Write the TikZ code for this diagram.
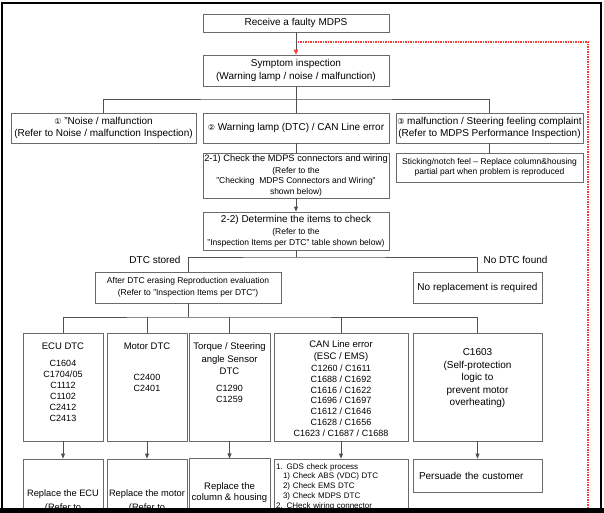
\documentclass[tikz,border=0pt]{standalone}
\usepackage{fontspec}
\setmainfont{Liberation Sans}
\newfontfamily\symfont{DejaVu Sans}
\usetikzlibrary{arrows.meta}
\definecolor{boxline}{HTML}{6A6A6A}
\definecolor{wireline}{HTML}{505050}
\definecolor{loopred}{HTML}{FF3838}
\newcommand{\circnum}[1]{{\symfont\fontsize{8}{10}\selectfont #1}}

\begin{document}
\begin{tikzpicture}[x=1pt, y=-1pt, font=\fontsize{10}{12.5}\selectfont,
        box/.style={draw=boxline, line width=0.8pt, inner sep=1pt, align=center},
        wire/.style={draw=wireline, line width=0.8pt},
        drop/.style={wire, -{Triangle[length=5pt, width=4pt]}},
        note/.style={font=\fontsize{8.5}{10.5}\selectfont},
        codes/.style={inner sep=0pt, anchor=north, align=center, font=\fontsize{9}{11}\selectfont},
        redloop/.style={draw=loopred, line width=1.3pt, dash pattern=on 1.5pt off 1pt}]
        \useasboundingbox (0, 0) rectangle (604, 513);

        \node[box, minimum width=186, minimum height=18] (recv) at (296, 23) {Receive a faulty MDPS};
        \node[box, minimum width=186, minimum height=31] (symp) at (296, 70.5) {Symptom inspection\\(Warning lamp / noise / malfunction)};
        \node[box, minimum width=185, minimum height=30, font=\fontsize{10}{12}\selectfont] (noise) at (103.5, 128) {\circnum{①} "Noise / malfunction\\(Refer to Noise / malfunction Inspection)};
        \node[box, minimum width=186, minimum height=30] (warn) at (296, 128) {\circnum{②} Warning lamp (DTC) / CAN Line error};
        \node[box, minimum width=187, minimum height=30, font=\fontsize{10}{12}\selectfont] (steer) at (489.5, 128) {\circnum{③} malfunction / Steering feeling complaint\\(Refer to MDPS Performance Inspection)};
        \node[box, note, minimum width=186, minimum height=45] (check) at (296, 175.5) {{\fontsize{9.3}{12}\selectfont 2-1) Check the MDPS connectors and wiring}\\[1.5pt](Refer to the\\"Checking\ \ MDPS Connectors and Wiring"\\shown below)};
        \node[box, note, minimum width=187, minimum height=29] (stick) at (489.5, 167.5) {Sticking/notch feel -- Replace column\&housing\\partial part when problem is reproduced};
        \node[box, note, minimum width=186, minimum height=38, font=\fontsize{8.5}{11}\selectfont] (items) at (296, 231) {{\fontsize{10}{12}\selectfont 2-2) Determine the items to check}\\[1pt](Refer to the\\"Inspection Items per DTC" table shown below)};
        \node (stored) at (155, 259.5) {DTC stored};
        \node (nofound) at (515.5, 259.5) {No DTC found};
        \node[box, minimum width=186, minimum height=31, font=\fontsize{8.5}{12}\selectfont] (erase) at (188, 287.5) {After DTC erasing Reproduction evaluation\\(Refer to "Inspection Items per DTC")};
        \node[box, minimum width=129, minimum height=31] (norep) at (477.5, 287.5) {No replacement is required};

        \node[box, minimum width=80, minimum height=108] (ecu) at (63, 387) {};
        \node[box, minimum width=80, minimum height=108] (motor) at (147, 387) {};
        \node[box, minimum width=81, minimum height=108] (sensor) at (229.5, 387) {};
        \node[box, minimum width=134, minimum height=108] (can) at (341, 387) {};
        \node[box, minimum width=129, minimum height=108] (selfprot) at (477.5, 387) {};
        \node[codes] (ecutxt) at (63, 342.6) {{\fontsize{9.5}{11}\selectfont ECU DTC}\\[5.8pt]C1604\\C1704/05\\C1112\\C1102\\C2412\\C2413};
        \node[codes] (motortxt) at (147, 342.6) {{\fontsize{9.5}{11}\selectfont Motor DTC}\\[19.8pt]C2400\\C2401};
        \node[codes] (sensortxt) at (229.5, 342.6) {{\fontsize{9.5}{11}\selectfont Torque / Steering}\\[1.5pt]{\fontsize{9.5}{11}\selectfont angle Sensor}\\[1.5pt]{\fontsize{9.5}{11}\selectfont DTC}\\[5.8pt]C1290\\C1259};
        \node[codes, font=\fontsize{9}{10.8}\selectfont] (cantxt) at (341, 340.6) {{\fontsize{9.5}{11}\selectfont CAN Line error}\\[1.2pt]{\fontsize{9.5}{11}\selectfont (ESC / EMS)}\\[1pt]C1260 / C1611\\C1688 / C1692\\C1616 / C1622\\C1696 / C1697\\C1612 / C1646\\C1628 / C1656\\C1623 / C1687 / C1688};
        \node[codes, font=\fontsize{10}{12.5}\selectfont] (selfprottxt) at (477.5, 348.4) {C1603\\(Self-protection\\logic to\\prevent motor\\overheating)};

        \node[box, minimum width=80, minimum height=84, font=\fontsize{9.3}{14}\selectfont] (ecurep) at (63, 501) {Replace the ECU\\(Refer to};
        \node[box, minimum width=80, minimum height=84, font=\fontsize{9.3}{14}\selectfont] (motorrep) at (147, 501) {Replace the motor\\(Refer to};
        \node[box, minimum width=81, minimum height=67, font=\fontsize{9.5}{11.5}\selectfont] (colrep) at (229.5, 492.3) {Replace the\\column \& housing};
        \node[box, minimum width=134, minimum height=55, text width=130pt, align=left, inner xsep=2pt, font=\fontsize{8}{9.75}\selectfont] (gds) at (341, 486.5) {1. GDS check process\\\hspace*{7pt}1) Check ABS (VDC) DTC\\\hspace*{7pt}2) Check EMS DTC\\\hspace*{7pt}3) Check MDPS DTC\\2. CHeck wiring connector};
        \node[box, minimum width=129, minimum height=33, text width=117pt, align=left, inner xsep=6pt] (persuade) at (477.5, 475.5) {Persuade the customer};

        \coordinate (fork1) at (296, 99);
        \coordinate (fork2) at (296, 257);
        \coordinate (fork3) at (188, 317);
        \coordinate (loopfoot) at (588, 513);
        \coordinate (loopjoin) at (297, 42);

        \draw[redloop] (loopfoot) |- (loopjoin);
        \draw[wire, -{Triangle[length=5pt, width=4.5pt, color=loopred]}] (recv) -- (symp);
        \draw[wire] (symp) -- (fork1);
        \draw[wire] (noise) |- (fork1) -| (steer);
        \draw[wire] (fork1) -- (warn);
        \draw[wire] (warn) -- (check);
        \draw[wire] (steer) -- (stick);
        \draw[drop] (check) -- (items);
        \draw[wire] (items) -- (fork2);
        \draw[wire] (erase) |- (fork2) -| (norep);
        \draw[wire] (erase) -- (fork3);
        \draw[wire] (ecu) |- (fork3) -| (selfprot);
        \foreach \n in {motor, sensor, can} {
            \draw[wire] (\n) -- (\n |- fork3);
        }
        \foreach \a/\b in {ecu/ecurep, motor/motorrep, sensor/colrep, can/gds, selfprot/persuade} {
            \draw[drop] (\a) -- (\b);
        }

        \draw[line width=1.6pt] (2, 513) -- (2, 3) -- (601, 3) -- (601, 513);
        \fill (0, 508) rectangle (604, 513);
    \end{tikzpicture}
\end{document}
